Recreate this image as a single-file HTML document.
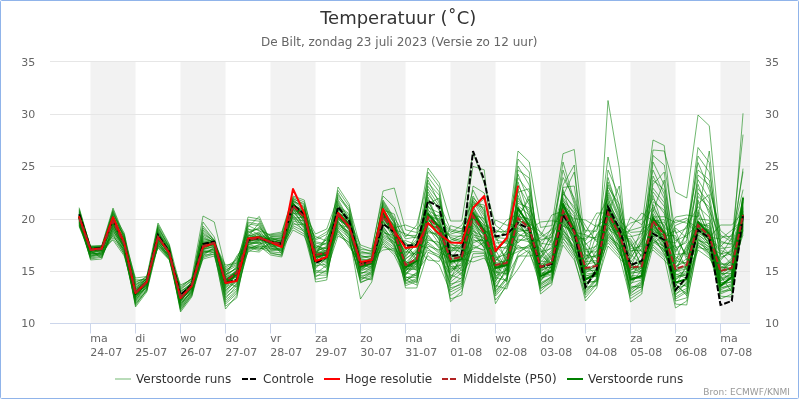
<!DOCTYPE html>
<html lang="nl"><head><meta charset="utf-8"><title>Temperatuur</title>
<style>html,body{margin:0;padding:0;background:#fff;}svg{display:block;font-family:"DejaVu Sans","Liberation Sans",Verdana,sans-serif;}</style></head><body>
<svg width="800" height="400" viewBox="0 0 800 400">
<rect x="0" y="0" width="800" height="400" fill="#ffffff"/>
<rect x="0.5" y="0.5" width="798" height="398" rx="1" ry="1" fill="#ffffff" stroke="#90b4ea" stroke-width="1"/>
<rect x="90.5" y="61.5" width="45.0" height="262.0" fill="#f2f2f2"/>
<rect x="180.5" y="61.5" width="45.0" height="262.0" fill="#f2f2f2"/>
<rect x="270.5" y="61.5" width="45.0" height="262.0" fill="#f2f2f2"/>
<rect x="360.5" y="61.5" width="45.0" height="262.0" fill="#f2f2f2"/>
<rect x="450.5" y="61.5" width="45.0" height="262.0" fill="#f2f2f2"/>
<rect x="540.5" y="61.5" width="45.0" height="262.0" fill="#f2f2f2"/>
<rect x="630.5" y="61.5" width="45.0" height="262.0" fill="#f2f2f2"/>
<rect x="720.5" y="61.5" width="29.5" height="262.0" fill="#f2f2f2"/>
<path d="M50 271.5H750" stroke="#e6e6e6" stroke-width="1" fill="none"/>
<path d="M50 219.5H750" stroke="#e6e6e6" stroke-width="1" fill="none"/>
<path d="M50 166.5H750" stroke="#e6e6e6" stroke-width="1" fill="none"/>
<path d="M50 114.5H750" stroke="#e6e6e6" stroke-width="1" fill="none"/>
<path d="M50 61.5H750" stroke="#e6e6e6" stroke-width="1" fill="none"/>
<path d="M50 323.5H750" stroke="#ccd6eb" stroke-width="1" fill="none"/>
<path d="M90.5 323.5V333.5" stroke="#ccd6eb" stroke-width="1" fill="none"/>
<path d="M135.5 323.5V333.5" stroke="#ccd6eb" stroke-width="1" fill="none"/>
<path d="M180.5 323.5V333.5" stroke="#ccd6eb" stroke-width="1" fill="none"/>
<path d="M225.5 323.5V333.5" stroke="#ccd6eb" stroke-width="1" fill="none"/>
<path d="M270.5 323.5V333.5" stroke="#ccd6eb" stroke-width="1" fill="none"/>
<path d="M315.5 323.5V333.5" stroke="#ccd6eb" stroke-width="1" fill="none"/>
<path d="M360.5 323.5V333.5" stroke="#ccd6eb" stroke-width="1" fill="none"/>
<path d="M405.5 323.5V333.5" stroke="#ccd6eb" stroke-width="1" fill="none"/>
<path d="M450.5 323.5V333.5" stroke="#ccd6eb" stroke-width="1" fill="none"/>
<path d="M495.5 323.5V333.5" stroke="#ccd6eb" stroke-width="1" fill="none"/>
<path d="M540.5 323.5V333.5" stroke="#ccd6eb" stroke-width="1" fill="none"/>
<path d="M585.5 323.5V333.5" stroke="#ccd6eb" stroke-width="1" fill="none"/>
<path d="M630.5 323.5V333.5" stroke="#ccd6eb" stroke-width="1" fill="none"/>
<path d="M675.5 323.5V333.5" stroke="#ccd6eb" stroke-width="1" fill="none"/>
<path d="M720.5 323.5V333.5" stroke="#ccd6eb" stroke-width="1" fill="none"/>
<g fill="none" stroke-linejoin="round" stroke-linecap="round">
<g stroke="#008000" stroke-width="1" stroke-opacity="0.56">
<path d="M79.25 217.6 L90.50 255.1 L101.75 255.2 L113.00 220.7 L124.25 240.9 L135.50 299.4 L146.75 285.6 L158.00 235.5 L169.25 253.6 L180.50 298.0 L191.75 284.6 L203.00 249.0 L214.25 246.5 L225.50 281.0 L236.75 274.4 L248.00 240.7 L259.25 238.3 L270.50 243.3 L281.75 244.0 L293.00 205.8 L304.25 212.2 L315.50 250.8 L326.75 248.2 L338.00 204.3 L349.25 225.8 L360.50 259.3 L371.75 260.2 L383.00 211.5 L394.25 233.5 L405.50 251.5 L416.75 254.4 L428.00 172.0 L439.25 187.0 L450.50 264.2 L461.75 259.5 L473.00 186.0 L484.25 193.0 L495.50 249.8 L506.75 270.6 L518.00 166.0 L529.25 185.0 L540.50 259.6 L551.75 239.5 L563.00 162.0 L574.25 201.1 L585.50 236.7 L596.75 237.9 L608.00 215.2 L619.25 234.0 L630.50 236.7 L641.75 233.7 L653.00 222.2 L664.25 222.2 L675.50 240.7 L686.75 235.5 L698.00 224.0 L709.25 236.5 L720.50 252.1 L731.75 264.7 L743.00 197.0"/>
<path d="M79.25 214.2 L90.50 251.6 L101.75 249.0 L113.00 221.1 L124.25 241.4 L135.50 292.5 L146.75 282.2 L158.00 233.0 L169.25 250.8 L180.50 296.6 L191.75 285.5 L203.00 234.8 L214.25 240.8 L225.50 283.8 L236.75 278.7 L248.00 236.2 L259.25 231.9 L270.50 242.0 L281.75 244.0 L293.00 200.4 L304.25 207.5 L315.50 253.7 L326.75 236.1 L338.00 201.1 L349.25 222.3 L360.50 267.1 L371.75 263.1 L383.00 212.9 L394.25 237.9 L405.50 267.8 L416.75 256.4 L428.00 201.7 L439.25 221.8 L450.50 251.5 L461.75 239.4 L473.00 205.6 L484.25 232.5 L495.50 246.5 L506.75 248.5 L518.00 217.2 L529.25 198.9 L540.50 271.1 L551.75 258.0 L563.00 207.2 L574.25 220.7 L585.50 270.2 L596.75 263.3 L608.00 192.5 L619.25 217.9 L630.50 257.5 L641.75 242.3 L653.00 223.7 L664.25 237.3 L675.50 217.0 L686.75 215.0 L698.00 216.9 L709.25 151.0 L720.50 255.5 L731.75 238.1 L743.00 190.0"/>
<path d="M79.25 217.8 L90.50 250.0 L101.75 248.9 L113.00 214.5 L124.25 243.3 L135.50 294.8 L146.75 283.3 L158.00 239.5 L169.25 253.7 L180.50 291.5 L191.75 283.2 L203.00 244.4 L214.25 242.2 L225.50 281.0 L236.75 270.2 L248.00 245.5 L259.25 241.8 L270.50 249.3 L281.75 248.0 L293.00 225.7 L304.25 231.3 L315.50 275.3 L326.75 275.1 L338.00 226.9 L349.25 234.5 L360.50 282.0 L371.75 278.4 L383.00 239.0 L394.25 247.5 L405.50 283.9 L416.75 280.0 L428.00 240.2 L439.25 242.4 L450.50 273.2 L461.75 258.6 L473.00 262.0 L484.25 258.0 L495.50 274.7 L506.75 257.2 L518.00 251.5 L529.25 246.9 L540.50 237.6 L551.75 229.7 L563.00 208.1 L574.25 222.5 L585.50 269.4 L596.75 270.8 L608.00 211.3 L619.25 236.9 L630.50 238.7 L641.75 257.5 L653.00 235.4 L664.25 254.3 L675.50 271.6 L686.75 268.7 L698.00 235.3 L709.25 241.6 L720.50 271.1 L731.75 263.5 L743.00 230.4"/>
<path d="M79.25 227.0 L90.50 253.1 L101.75 249.2 L113.00 222.9 L124.25 247.2 L135.50 292.8 L146.75 277.6 L158.00 237.1 L169.25 253.0 L180.50 312.0 L191.75 297.0 L203.00 255.8 L214.25 247.0 L225.50 285.5 L236.75 273.6 L248.00 247.5 L259.25 250.6 L270.50 236.7 L281.75 235.6 L293.00 218.2 L304.25 217.1 L315.50 252.7 L326.75 253.0 L338.00 223.5 L349.25 233.5 L360.50 263.3 L371.75 261.4 L383.00 224.7 L394.25 229.6 L405.50 233.8 L416.75 238.2 L428.00 216.4 L439.25 218.7 L450.50 232.6 L461.75 225.3 L473.00 201.2 L484.25 220.3 L495.50 235.6 L506.75 263.1 L518.00 209.8 L529.25 223.6 L540.50 231.9 L551.75 241.4 L563.00 170.0 L574.25 204.0 L585.50 256.9 L596.75 248.1 L608.00 157.0 L619.25 206.6 L630.50 250.5 L641.75 250.3 L653.00 195.4 L664.25 230.5 L675.50 277.6 L686.75 272.4 L698.00 239.6 L709.25 246.9 L720.50 253.8 L731.75 251.9 L743.00 216.9"/>
<path d="M79.25 212.4 L90.50 247.0 L101.75 246.5 L113.00 213.7 L124.25 233.0 L135.50 291.4 L146.75 280.5 L158.00 230.0 L169.25 250.0 L180.50 297.2 L191.75 284.9 L203.00 242.5 L214.25 242.1 L225.50 269.8 L236.75 264.5 L248.00 233.5 L259.25 227.3 L270.50 241.7 L281.75 243.5 L293.00 209.8 L304.25 217.0 L315.50 265.9 L326.75 263.9 L338.00 229.4 L349.25 247.0 L360.50 262.3 L371.75 265.2 L383.00 235.9 L394.25 242.4 L405.50 240.6 L416.75 245.0 L428.00 248.1 L439.25 258.5 L450.50 225.6 L461.75 228.9 L473.00 213.0 L484.25 233.0 L495.50 277.5 L506.75 280.6 L518.00 237.1 L529.25 229.2 L540.50 287.8 L551.75 282.8 L563.00 245.0 L574.25 260.0 L585.50 295.1 L596.75 283.0 L608.00 246.0 L619.25 258.0 L630.50 269.8 L641.75 266.9 L653.00 216.9 L664.25 216.7 L675.50 222.7 L686.75 218.0 L698.00 236.3 L709.25 247.9 L720.50 270.7 L731.75 269.2 L743.00 225.8"/>
<path d="M79.25 220.1 L90.50 252.3 L101.75 251.3 L113.00 221.0 L124.25 243.8 L135.50 300.9 L146.75 284.7 L158.00 243.2 L169.25 255.6 L180.50 306.7 L191.75 292.9 L203.00 259.0 L214.25 256.0 L225.50 295.2 L236.75 283.1 L248.00 240.5 L259.25 238.0 L270.50 243.0 L281.75 244.1 L293.00 209.1 L304.25 217.0 L315.50 268.7 L326.75 257.3 L338.00 225.7 L349.25 231.6 L360.50 273.4 L371.75 270.1 L383.00 217.4 L394.25 234.8 L405.50 271.7 L416.75 258.1 L428.00 244.1 L439.25 253.3 L450.50 270.0 L461.75 262.8 L473.00 216.2 L484.25 234.7 L495.50 253.1 L506.75 236.7 L518.00 219.0 L529.25 228.1 L540.50 281.6 L551.75 265.7 L563.00 225.0 L574.25 235.4 L585.50 277.7 L596.75 276.0 L608.00 229.4 L619.25 236.2 L630.50 271.7 L641.75 273.4 L653.00 230.6 L664.25 243.3 L675.50 295.4 L686.75 281.5 L698.00 250.0 L709.25 258.0 L720.50 277.2 L731.75 268.6 L743.00 235.0"/>
<path d="M79.25 220.4 L90.50 247.3 L101.75 248.6 L113.00 228.7 L124.25 246.7 L135.50 298.7 L146.75 282.8 L158.00 246.0 L169.25 258.0 L180.50 299.4 L191.75 286.9 L203.00 248.5 L214.25 247.6 L225.50 280.8 L236.75 273.1 L248.00 237.5 L259.25 232.8 L270.50 250.1 L281.75 248.6 L293.00 206.0 L304.25 216.5 L315.50 255.0 L326.75 252.9 L338.00 232.2 L349.25 243.2 L360.50 266.2 L371.75 263.5 L383.00 246.6 L394.25 250.9 L405.50 270.9 L416.75 262.6 L428.00 212.0 L439.25 229.8 L450.50 268.4 L461.75 268.1 L473.00 219.1 L484.25 232.8 L495.50 276.1 L506.75 269.7 L518.00 241.0 L529.25 238.4 L540.50 291.3 L551.75 281.0 L563.00 221.0 L574.25 253.6 L585.50 284.4 L596.75 274.2 L608.00 226.6 L619.25 242.0 L630.50 292.4 L641.75 286.3 L653.00 237.9 L664.25 253.1 L675.50 285.0 L686.75 293.9 L698.00 243.1 L709.25 248.8 L720.50 260.4 L731.75 248.6 L743.00 231.4"/>
<path d="M79.25 209.2 L90.50 247.9 L101.75 247.2 L113.00 217.9 L124.25 241.8 L135.50 293.3 L146.75 282.6 L158.00 237.0 L169.25 252.4 L180.50 298.0 L191.75 286.0 L203.00 245.9 L214.25 242.8 L225.50 274.0 L236.75 268.9 L248.00 217.0 L259.25 219.0 L270.50 241.6 L281.75 242.7 L293.00 205.4 L304.25 217.2 L315.50 257.7 L326.75 253.0 L338.00 219.0 L349.25 228.1 L360.50 252.4 L371.75 252.9 L383.00 219.2 L394.25 232.0 L405.50 253.0 L416.75 241.0 L428.00 226.5 L439.25 239.6 L450.50 295.5 L461.75 288.2 L473.00 231.2 L484.25 236.8 L495.50 257.6 L506.75 254.5 L518.00 239.0 L529.25 241.9 L540.50 282.8 L551.75 276.9 L563.00 219.7 L574.25 241.3 L585.50 276.4 L596.75 271.6 L608.00 210.5 L619.25 227.6 L630.50 270.7 L641.75 262.2 L653.00 221.1 L664.25 248.5 L675.50 267.3 L686.75 258.7 L698.00 229.7 L709.25 229.7 L720.50 282.5 L731.75 282.4 L743.00 209.3"/>
<path d="M79.25 218.1 L90.50 250.0 L101.75 249.0 L113.00 219.6 L124.25 244.5 L135.50 288.7 L146.75 282.0 L158.00 237.6 L169.25 254.9 L180.50 298.5 L191.75 286.1 L203.00 246.7 L214.25 245.1 L225.50 280.9 L236.75 269.6 L248.00 248.2 L259.25 245.1 L270.50 237.8 L281.75 238.0 L293.00 213.5 L304.25 214.2 L315.50 244.6 L326.75 251.5 L338.00 217.1 L349.25 226.8 L360.50 258.4 L371.75 256.3 L383.00 230.0 L394.25 246.5 L405.50 265.5 L416.75 250.0 L428.00 236.5 L439.25 246.8 L450.50 263.0 L461.75 274.2 L473.00 226.1 L484.25 239.4 L495.50 265.2 L506.75 266.2 L518.00 228.2 L529.25 234.2 L540.50 273.9 L551.75 272.1 L563.00 223.6 L574.25 233.2 L585.50 240.7 L596.75 224.7 L608.00 230.8 L619.25 250.2 L630.50 278.9 L641.75 259.2 L653.00 250.0 L664.25 260.0 L675.50 273.8 L686.75 278.3 L698.00 245.5 L709.25 253.0 L720.50 286.1 L731.75 281.1 L743.00 215.0"/>
<path d="M79.25 226.1 L90.50 248.4 L101.75 247.8 L113.00 222.1 L124.25 244.2 L135.50 283.6 L146.75 279.6 L158.00 236.4 L169.25 253.3 L180.50 288.9 L191.75 280.1 L203.00 236.2 L214.25 242.5 L225.50 276.5 L236.75 256.0 L248.00 241.5 L259.25 240.7 L270.50 235.4 L281.75 234.6 L293.00 199.0 L304.25 203.7 L315.50 254.1 L326.75 254.0 L338.00 202.7 L349.25 226.0 L360.50 260.2 L371.75 259.8 L383.00 206.1 L394.25 222.5 L405.50 248.5 L416.75 260.2 L428.00 225.0 L439.25 228.4 L450.50 243.3 L461.75 249.9 L473.00 199.5 L484.25 216.5 L495.50 254.6 L506.75 271.6 L518.00 225.1 L529.25 227.3 L540.50 269.5 L551.75 256.6 L563.00 234.0 L574.25 245.9 L585.50 263.0 L596.75 219.4 L608.00 199.0 L619.25 224.9 L630.50 246.7 L641.75 235.9 L653.00 184.4 L664.25 172.0 L675.50 265.9 L686.75 262.0 L698.00 218.8 L709.25 220.3 L720.50 279.2 L731.75 275.4 L743.00 214.4"/>
<path d="M79.25 218.0 L90.50 250.8 L101.75 249.0 L113.00 221.2 L124.25 244.0 L135.50 300.1 L146.75 286.5 L158.00 238.1 L169.25 254.7 L180.50 303.0 L191.75 291.0 L203.00 243.9 L214.25 242.8 L225.50 292.3 L236.75 279.7 L248.00 240.9 L259.25 239.1 L270.50 242.1 L281.75 252.1 L293.00 208.4 L304.25 227.7 L315.50 254.9 L326.75 237.9 L338.00 222.5 L349.25 232.5 L360.50 269.0 L371.75 269.1 L383.00 214.0 L394.25 237.1 L405.50 258.4 L416.75 252.3 L428.00 217.9 L439.25 236.9 L450.50 258.7 L461.75 256.8 L473.00 251.5 L484.25 252.3 L495.50 283.7 L506.75 272.6 L518.00 220.0 L529.25 224.8 L540.50 280.4 L551.75 270.3 L563.00 202.3 L574.25 227.0 L585.50 266.7 L596.75 233.6 L608.00 223.9 L619.25 253.7 L630.50 268.2 L641.75 240.2 L653.00 219.3 L664.25 224.7 L675.50 299.1 L686.75 292.0 L698.00 220.5 L709.25 235.6 L720.50 291.2 L731.75 290.4 L743.00 206.2"/>
<path d="M79.25 210.2 L90.50 249.9 L101.75 249.0 L113.00 218.4 L124.25 244.0 L135.50 298.0 L146.75 282.1 L158.00 234.7 L169.25 251.8 L180.50 297.6 L191.75 282.3 L203.00 239.8 L214.25 241.3 L225.50 281.7 L236.75 275.5 L248.00 240.0 L259.25 235.7 L270.50 240.6 L281.75 243.6 L293.00 201.0 L304.25 210.5 L315.50 260.2 L326.75 251.0 L338.00 214.7 L349.25 224.2 L360.50 264.1 L371.75 257.7 L383.00 221.2 L394.25 236.3 L405.50 275.4 L416.75 259.1 L428.00 189.2 L439.25 206.0 L450.50 271.5 L461.75 264.1 L473.00 214.4 L484.25 228.9 L495.50 244.7 L506.75 258.5 L518.00 200.9 L529.25 210.2 L540.50 268.1 L551.75 263.5 L563.00 195.7 L574.25 172.0 L585.50 251.8 L596.75 251.9 L608.00 228.0 L619.25 233.5 L630.50 266.2 L641.75 260.7 L653.00 220.1 L664.25 235.0 L675.50 270.6 L686.75 266.7 L698.00 223.1 L709.25 231.4 L720.50 263.4 L731.75 265.8 L743.00 219.4"/>
<path d="M79.25 221.6 L90.50 259.0 L101.75 257.2 L113.00 231.7 L124.25 246.3 L135.50 304.5 L146.75 289.5 L158.00 240.4 L169.25 253.0 L180.50 304.4 L191.75 289.4 L203.00 253.3 L214.25 250.3 L225.50 300.2 L236.75 290.2 L248.00 250.8 L259.25 252.0 L270.50 242.5 L281.75 244.0 L293.00 224.1 L304.25 224.7 L315.50 247.0 L326.75 252.5 L338.00 215.1 L349.25 224.6 L360.50 265.0 L371.75 264.6 L383.00 237.4 L394.25 244.4 L405.50 280.5 L416.75 274.6 L428.00 234.7 L439.25 248.4 L450.50 299.0 L461.75 295.0 L473.00 215.6 L484.25 233.1 L495.50 296.0 L506.75 283.1 L518.00 189.0 L529.25 227.7 L540.50 294.0 L551.75 285.0 L563.00 206.1 L574.25 228.2 L585.50 293.4 L596.75 279.9 L608.00 222.7 L619.25 238.5 L630.50 280.3 L641.75 275.5 L653.00 220.7 L664.25 245.3 L675.50 297.2 L686.75 290.2 L698.00 240.7 L709.25 243.3 L720.50 294.0 L731.75 289.0 L743.00 214.9"/>
<path d="M79.25 218.9 L90.50 248.2 L101.75 246.7 L113.00 220.9 L124.25 242.8 L135.50 293.0 L146.75 283.9 L158.00 236.6 L169.25 252.7 L180.50 290.7 L191.75 285.7 L203.00 246.3 L214.25 243.1 L225.50 287.4 L236.75 280.8 L248.00 240.3 L259.25 237.3 L270.50 241.8 L281.75 244.2 L293.00 206.0 L304.25 216.7 L315.50 253.3 L326.75 249.8 L338.00 217.7 L349.25 226.1 L360.50 257.4 L371.75 255.5 L383.00 218.3 L394.25 234.1 L405.50 245.4 L416.75 247.5 L428.00 260.0 L439.25 261.4 L450.50 240.4 L461.75 235.0 L473.00 215.9 L484.25 233.5 L495.50 262.7 L506.75 260.8 L518.00 218.0 L529.25 195.7 L540.50 285.3 L551.75 275.8 L563.00 230.9 L574.25 242.4 L585.50 288.8 L596.75 267.5 L608.00 232.3 L619.25 245.9 L630.50 289.2 L641.75 281.2 L653.00 201.7 L664.25 210.1 L675.50 279.0 L686.75 273.8 L698.00 200.1 L709.25 232.9 L720.50 264.8 L731.75 262.2 L743.00 221.6"/>
<path d="M79.25 217.2 L90.50 253.6 L101.75 253.5 L113.00 235.3 L124.25 252.2 L135.50 293.2 L146.75 282.0 L158.00 233.6 L169.25 246.7 L180.50 297.4 L191.75 286.0 L203.00 229.9 L214.25 240.3 L225.50 282.1 L236.75 274.0 L248.00 243.7 L259.25 243.0 L270.50 238.3 L281.75 241.6 L293.00 205.9 L304.25 209.6 L315.50 240.2 L326.75 234.3 L338.00 212.7 L349.25 218.7 L360.50 249.4 L371.75 250.6 L383.00 215.8 L394.25 231.6 L405.50 274.5 L416.75 265.4 L428.00 222.3 L439.25 231.4 L450.50 285.9 L461.75 277.5 L473.00 234.9 L484.25 237.7 L495.50 282.1 L506.75 255.9 L518.00 226.6 L529.25 235.2 L540.50 277.0 L551.75 260.6 L563.00 214.2 L574.25 232.6 L585.50 260.1 L596.75 244.2 L608.00 213.7 L619.25 242.9 L630.50 290.8 L641.75 282.5 L653.00 243.4 L664.25 235.1 L675.50 290.0 L686.75 279.8 L698.00 225.1 L709.25 246.0 L720.50 289.9 L731.75 284.9 L743.00 228.5"/>
<path d="M79.25 218.0 L90.50 249.5 L101.75 248.7 L113.00 216.0 L124.25 236.3 L135.50 293.0 L146.75 281.5 L158.00 235.8 L169.25 253.4 L180.50 299.1 L191.75 289.0 L203.00 247.7 L214.25 243.3 L225.50 280.7 L236.75 271.6 L248.00 238.6 L259.25 239.4 L270.50 240.9 L281.75 244.7 L293.00 206.0 L304.25 217.7 L315.50 243.2 L326.75 245.1 L338.00 213.7 L349.25 225.3 L360.50 265.0 L371.75 262.1 L383.00 220.2 L394.25 239.6 L405.50 242.2 L416.75 259.6 L428.00 216.8 L439.25 215.0 L450.50 231.0 L461.75 233.5 L473.00 196.0 L484.25 214.5 L495.50 259.0 L506.75 264.1 L518.00 170.0 L529.25 178.0 L540.50 263.6 L551.75 265.1 L563.00 211.0 L574.25 218.7 L585.50 220.0 L596.75 226.9 L608.00 216.1 L619.25 243.9 L630.50 217.0 L641.75 224.7 L653.00 207.1 L664.25 226.9 L675.50 238.2 L686.75 255.0 L698.00 212.2 L709.25 234.1 L720.50 250.3 L731.75 255.1 L743.00 214.0"/>
<path d="M79.25 222.6 L90.50 250.2 L101.75 250.6 L113.00 223.5 L124.25 250.1 L135.50 287.3 L146.75 280.9 L158.00 237.0 L169.25 254.4 L180.50 296.2 L191.75 285.8 L203.00 233.3 L214.25 241.1 L225.50 281.0 L236.75 287.1 L248.00 240.0 L259.25 239.8 L270.50 237.3 L281.75 242.0 L293.00 203.2 L304.25 212.9 L315.50 249.0 L326.75 242.5 L338.00 207.0 L349.25 215.1 L360.50 264.6 L371.75 266.6 L383.00 210.8 L394.25 227.0 L405.50 243.8 L416.75 246.3 L428.00 199.5 L439.25 226.5 L450.50 237.4 L461.75 240.8 L473.00 211.4 L484.25 226.5 L495.50 272.0 L506.75 273.7 L518.00 215.5 L529.25 228.0 L540.50 256.6 L551.75 246.8 L563.00 212.4 L574.25 239.2 L585.50 271.1 L596.75 265.6 L608.00 238.4 L619.25 249.1 L630.50 228.1 L641.75 213.0 L653.00 221.0 L664.25 219.6 L675.50 260.6 L686.75 263.4 L698.00 237.4 L709.25 250.9 L720.50 275.3 L731.75 270.7 L743.00 218.1"/>
<path d="M79.25 215.2 L90.50 248.8 L101.75 248.3 L113.00 220.4 L124.25 234.3 L135.50 281.3 L146.75 278.9 L158.00 243.9 L169.25 258.5 L180.50 286.6 L191.75 278.7 L203.00 247.0 L214.25 245.5 L225.50 278.8 L236.75 273.0 L248.00 239.3 L259.25 238.5 L270.50 239.6 L281.75 243.8 L293.00 219.6 L304.25 220.7 L315.50 267.3 L326.75 254.5 L338.00 220.6 L349.25 236.7 L360.50 264.9 L371.75 258.3 L383.00 250.0 L394.25 248.6 L405.50 263.0 L416.75 251.1 L428.00 242.1 L439.25 251.7 L450.50 259.2 L461.75 244.9 L473.00 227.8 L484.25 245.4 L495.50 243.0 L506.75 242.0 L518.00 151.0 L529.25 162.0 L540.50 227.4 L551.75 225.6 L563.00 153.7 L574.25 149.5 L585.50 246.4 L596.75 266.9 L608.00 204.3 L619.25 234.5 L630.50 230.3 L641.75 227.0 L653.00 140.0 L664.25 145.5 L675.50 252.3 L686.75 233.1 L698.00 147.5 L709.25 162.5 L720.50 266.2 L731.75 269.9 L743.00 203.7"/>
<path d="M79.25 215.6 L90.50 248.6 L101.75 247.0 L113.00 219.2 L124.25 242.2 L135.50 292.9 L146.75 281.9 L158.00 242.6 L169.25 257.5 L180.50 305.9 L191.75 290.4 L203.00 245.5 L214.25 242.9 L225.50 284.6 L236.75 276.2 L248.00 219.8 L259.25 221.2 L270.50 241.9 L281.75 240.6 L293.00 203.6 L304.25 218.9 L315.50 254.6 L326.75 253.1 L338.00 199.3 L349.25 219.8 L360.50 245.0 L371.75 249.0 L383.00 196.0 L394.25 207.0 L405.50 237.2 L416.75 225.0 L428.00 180.0 L439.25 203.5 L450.50 229.4 L461.75 232.0 L473.00 190.0 L484.25 212.3 L495.50 270.8 L506.75 281.8 L518.00 185.5 L529.25 204.9 L540.50 264.7 L551.75 273.0 L563.00 189.6 L574.25 225.6 L585.50 275.3 L596.75 276.9 L608.00 170.0 L619.25 196.0 L630.50 252.3 L641.75 244.3 L653.00 191.9 L664.25 206.5 L675.50 254.5 L686.75 253.1 L698.00 175.0 L709.25 185.1 L720.50 235.1 L731.75 241.7 L743.00 172.0"/>
<path d="M79.25 211.7 L90.50 246.0 L101.75 245.6 L113.00 210.9 L124.25 238.5 L135.50 278.0 L146.75 276.5 L158.00 223.0 L169.25 244.0 L180.50 287.9 L191.75 278.0 L203.00 216.0 L214.25 222.0 L225.50 268.5 L236.75 261.1 L248.00 225.5 L259.25 230.9 L270.50 234.7 L281.75 233.4 L293.00 197.2 L304.25 202.0 L315.50 241.8 L326.75 243.8 L338.00 190.4 L349.25 206.6 L360.50 247.4 L371.75 251.9 L383.00 191.0 L394.25 188.0 L405.50 229.8 L416.75 232.5 L428.00 168.0 L439.25 183.0 L450.50 221.0 L461.75 221.0 L473.00 152.5 L484.25 183.5 L495.50 225.4 L506.75 233.1 L518.00 174.2 L529.25 202.0 L540.50 245.0 L551.75 259.3 L563.00 211.7 L574.25 231.4 L585.50 255.3 L596.75 257.2 L608.00 194.8 L619.25 219.8 L630.50 232.4 L641.75 231.5 L653.00 170.0 L664.25 194.3 L675.50 264.2 L686.75 246.9 L698.00 227.3 L709.25 237.5 L720.50 225.0 L731.75 225.0 L743.00 212.5"/>
<path d="M79.25 216.0 L90.50 250.0 L101.75 249.6 L113.00 217.3 L124.25 243.1 L135.50 291.8 L146.75 282.0 L158.00 235.1 L169.25 252.6 L180.50 285.0 L191.75 279.4 L203.00 226.0 L214.25 240.0 L225.50 275.7 L236.75 267.4 L248.00 232.4 L259.25 228.5 L270.50 236.1 L281.75 236.4 L293.00 204.9 L304.25 217.0 L315.50 248.0 L326.75 239.5 L338.00 215.3 L349.25 228.7 L360.50 263.8 L371.75 268.2 L383.00 215.2 L394.25 228.4 L405.50 247.0 L416.75 255.5 L428.00 203.8 L439.25 198.0 L450.50 256.1 L461.75 257.8 L473.00 204.2 L484.25 207.5 L495.50 294.2 L506.75 279.4 L518.00 217.7 L529.25 243.1 L540.50 248.5 L551.75 264.5 L563.00 191.8 L574.25 209.5 L585.50 230.6 L596.75 231.4 L608.00 187.5 L619.25 204.0 L630.50 254.1 L641.75 264.9 L653.00 162.0 L664.25 185.0 L675.50 247.8 L686.75 242.5 L698.00 156.0 L709.25 172.0 L720.50 242.9 L731.75 243.5 L743.00 211.8"/>
<path d="M79.25 217.7 L90.50 249.6 L101.75 249.0 L113.00 220.6 L124.25 243.5 L135.50 279.8 L146.75 279.9 L158.00 240.9 L169.25 256.3 L180.50 294.3 L191.75 284.3 L203.00 246.0 L214.25 242.9 L225.50 265.0 L236.75 263.5 L248.00 239.0 L259.25 233.6 L270.50 241.1 L281.75 241.1 L293.00 206.6 L304.25 221.4 L315.50 255.1 L326.75 255.1 L338.00 211.2 L349.25 223.0 L360.50 253.8 L371.75 253.8 L383.00 223.5 L394.25 232.5 L405.50 267.1 L416.75 257.3 L428.00 228.0 L439.25 243.8 L450.50 260.8 L461.75 255.2 L473.00 249.3 L484.25 242.3 L495.50 269.6 L506.75 259.7 L518.00 247.2 L529.25 248.2 L540.50 255.1 L551.75 263.9 L563.00 238.9 L574.25 249.6 L585.50 278.9 L596.75 273.3 L608.00 240.1 L619.25 252.5 L630.50 272.8 L641.75 268.1 L653.00 244.8 L664.25 255.5 L675.50 269.8 L686.75 265.8 L698.00 232.3 L709.25 238.7 L720.50 261.9 L731.75 271.6 L743.00 207.3"/>
<path d="M79.25 224.8 L90.50 250.0 L101.75 249.1 L113.00 240.0 L124.25 256.0 L135.50 296.2 L146.75 284.3 L158.00 241.4 L169.25 257.1 L180.50 301.2 L191.75 287.1 L203.00 257.7 L214.25 253.7 L225.50 281.1 L236.75 277.0 L248.00 249.0 L259.25 244.4 L270.50 250.9 L281.75 249.9 L293.00 230.0 L304.25 236.0 L315.50 262.2 L326.75 259.2 L338.00 233.9 L349.25 244.9 L360.50 265.1 L371.75 261.9 L383.00 242.2 L394.25 252.7 L405.50 270.1 L416.75 260.9 L428.00 218.8 L439.25 234.5 L450.50 267.0 L461.75 265.4 L473.00 229.5 L484.25 248.7 L495.50 285.4 L506.75 289.0 L518.00 257.0 L529.25 249.6 L540.50 272.0 L551.75 263.1 L563.00 235.6 L574.25 247.1 L585.50 280.2 L596.75 270.1 L608.00 242.7 L619.25 255.6 L630.50 298.6 L641.75 291.2 L653.00 234.1 L664.25 247.4 L675.50 291.8 L686.75 283.1 L698.00 228.8 L709.25 223.0 L720.50 271.6 L731.75 267.7 L743.00 229.5"/>
<path d="M79.25 218.0 L90.50 251.3 L101.75 258.0 L113.00 229.6 L124.25 253.0 L135.50 301.7 L146.75 287.1 L158.00 238.8 L169.25 252.8 L180.50 308.5 L191.75 294.3 L203.00 248.1 L214.25 243.7 L225.50 296.8 L236.75 288.6 L248.00 246.1 L259.25 249.5 L270.50 242.7 L281.75 244.5 L293.00 205.6 L304.25 215.9 L315.50 255.3 L326.75 255.7 L338.00 193.2 L349.25 212.1 L360.50 279.2 L371.75 275.7 L383.00 240.6 L394.25 249.7 L405.50 273.5 L416.75 263.4 L428.00 250.2 L439.25 255.0 L450.50 284.0 L461.75 280.9 L473.00 245.0 L484.25 251.1 L495.50 273.3 L506.75 250.1 L518.00 233.4 L529.25 240.7 L540.50 262.3 L551.75 250.3 L563.00 208.9 L574.25 232.1 L585.50 234.7 L596.75 240.1 L608.00 218.1 L619.25 233.8 L630.50 223.1 L641.75 219.4 L653.00 198.6 L664.25 213.5 L675.50 269.2 L686.75 276.7 L698.00 221.9 L709.25 227.7 L720.50 267.5 L731.75 268.1 L743.00 201.0"/>
<path d="M79.25 224.2 L90.50 255.7 L101.75 251.7 L113.00 221.0 L124.25 243.9 L135.50 293.8 L146.75 281.7 L158.00 236.7 L169.25 252.0 L180.50 293.7 L191.75 285.9 L203.00 222.0 L214.25 237.0 L225.50 277.8 L236.75 266.5 L248.00 229.9 L259.25 229.7 L270.50 245.5 L281.75 250.6 L293.00 207.9 L304.25 216.9 L315.50 256.5 L326.75 258.2 L338.00 215.8 L349.25 230.8 L360.50 275.5 L371.75 274.5 L383.00 215.9 L394.25 225.4 L405.50 276.4 L416.75 282.8 L428.00 231.2 L439.25 235.7 L450.50 276.6 L461.75 266.7 L473.00 242.9 L484.25 238.5 L495.50 260.3 L506.75 251.6 L518.00 221.1 L529.25 233.2 L540.50 267.1 L551.75 267.8 L563.00 227.9 L574.25 248.4 L585.50 273.1 L596.75 264.6 L608.00 235.3 L619.25 246.9 L630.50 260.7 L641.75 271.5 L653.00 226.4 L664.25 236.1 L675.50 230.6 L686.75 260.4 L698.00 231.4 L709.25 236.9 L720.50 239.1 L731.75 230.2 L743.00 218.7"/>
<path d="M79.25 211.0 L90.50 246.4 L101.75 245.9 L113.00 208.0 L124.25 235.4 L135.50 295.7 L146.75 283.0 L158.00 234.2 L169.25 253.0 L180.50 297.9 L191.75 283.6 L203.00 246.1 L214.25 244.0 L225.50 273.0 L236.75 258.0 L248.00 240.1 L259.25 241.2 L270.50 240.0 L281.75 243.9 L293.00 206.3 L304.25 216.2 L315.50 254.8 L326.75 253.6 L338.00 228.1 L349.25 237.9 L360.50 283.0 L371.75 277.0 L383.00 227.3 L394.25 240.5 L405.50 259.6 L416.75 248.8 L428.00 215.1 L439.25 227.3 L450.50 259.9 L461.75 261.7 L473.00 207.0 L484.25 223.7 L495.50 264.7 L506.75 264.7 L518.00 198.2 L529.25 212.7 L540.50 246.7 L551.75 227.6 L563.00 177.5 L574.25 198.0 L585.50 232.6 L596.75 213.0 L608.00 213.0 L619.25 226.3 L630.50 234.6 L641.75 252.2 L653.00 209.5 L664.25 233.1 L675.50 280.4 L686.75 267.7 L698.00 244.3 L709.25 255.8 L720.50 283.7 L731.75 278.8 L743.00 226.7"/>
<path d="M79.25 219.4 L90.50 254.5 L101.75 252.1 L113.00 224.7 L124.25 244.7 L135.50 290.0 L146.75 281.3 L158.00 231.6 L169.25 249.6 L180.50 298.8 L191.75 287.8 L203.00 231.6 L214.25 241.9 L225.50 278.3 L236.75 271.9 L248.00 236.9 L259.25 222.8 L270.50 243.7 L281.75 245.7 L293.00 206.1 L304.25 215.2 L315.50 257.1 L326.75 266.7 L338.00 214.5 L349.25 225.6 L360.50 270.6 L371.75 262.0 L383.00 212.2 L394.25 231.3 L405.50 263.9 L416.75 258.8 L428.00 186.3 L439.25 200.8 L450.50 250.2 L461.75 251.1 L473.00 216.0 L484.25 244.3 L495.50 266.6 L506.75 265.4 L518.00 213.1 L529.25 228.6 L540.50 261.0 L551.75 262.7 L563.00 187.4 L574.25 186.0 L585.50 261.6 L596.75 260.5 L608.00 196.9 L619.25 231.8 L630.50 294.1 L641.75 283.7 L653.00 225.4 L664.25 236.7 L675.50 288.3 L686.75 284.8 L698.00 224.6 L709.25 225.5 L720.50 272.9 L731.75 259.5 L743.00 215.4"/>
<path d="M79.25 213.6 L90.50 249.0 L101.75 248.1 L113.00 222.5 L124.25 245.2 L135.50 293.1 L146.75 282.0 L158.00 236.9 L169.25 251.5 L180.50 297.9 L191.75 285.6 L203.00 240.8 L214.25 242.7 L225.50 281.4 L236.75 272.2 L248.00 239.6 L259.25 236.2 L270.50 242.0 L281.75 240.0 L293.00 201.6 L304.25 206.3 L315.50 256.0 L326.75 260.2 L338.00 212.0 L349.25 225.0 L360.50 269.7 L371.75 262.0 L383.00 201.3 L394.25 219.2 L405.50 282.7 L416.75 278.6 L428.00 177.0 L439.25 192.0 L450.50 265.6 L461.75 275.8 L473.00 208.2 L484.25 199.0 L495.50 239.4 L506.75 243.6 L518.00 178.1 L529.25 192.3 L540.50 268.8 L551.75 253.5 L563.00 217.3 L574.25 238.2 L585.50 238.7 L596.75 229.2 L608.00 205.8 L619.25 223.3 L630.50 244.8 L641.75 255.8 L653.00 222.9 L664.25 241.4 L675.50 220.0 L686.75 223.2 L698.00 234.3 L709.25 245.1 L720.50 258.8 L731.75 250.3 L743.00 213.6"/>
<path d="M79.25 218.0 L90.50 249.4 L101.75 248.8 L113.00 220.2 L124.25 240.4 L135.50 285.5 L146.75 276.0 L158.00 248.0 L169.25 260.0 L180.50 294.9 L191.75 284.0 L203.00 251.9 L214.25 251.1 L225.50 277.1 L236.75 271.2 L248.00 242.3 L259.25 243.7 L270.50 242.0 L281.75 242.4 L293.00 205.2 L304.25 220.0 L315.50 236.5 L326.75 241.1 L338.00 214.1 L349.25 217.6 L360.50 264.8 L371.75 262.5 L383.00 202.6 L394.25 220.4 L405.50 262.0 L416.75 264.4 L428.00 192.0 L439.25 210.8 L450.50 280.2 L461.75 252.2 L473.00 224.6 L484.25 235.3 L495.50 261.6 L506.75 245.3 L518.00 231.6 L529.25 229.9 L540.50 222.0 L551.75 220.8 L563.00 222.3 L574.25 236.3 L585.50 264.3 L596.75 262.0 L608.00 202.7 L619.25 221.6 L630.50 269.0 L641.75 254.0 L653.00 224.6 L664.25 251.9 L675.50 228.0 L686.75 237.9 L698.00 179.7 L709.25 198.9 L720.50 281.4 L731.75 272.4 L743.00 224.1"/>
<path d="M79.25 225.4 L90.50 257.5 L101.75 254.1 L113.00 238.1 L124.25 253.8 L135.50 302.6 L146.75 288.9 L158.00 236.8 L169.25 251.2 L180.50 305.1 L191.75 291.6 L203.00 250.6 L214.25 249.6 L225.50 289.7 L236.75 281.9 L248.00 240.2 L259.25 237.0 L270.50 253.7 L281.75 254.7 L293.00 202.7 L304.25 215.6 L315.50 282.0 L326.75 280.0 L338.00 209.3 L349.25 220.7 L360.50 268.3 L371.75 264.0 L383.00 213.5 L394.25 229.0 L405.50 272.6 L416.75 275.9 L428.00 217.2 L439.25 240.9 L450.50 287.9 L461.75 284.5 L473.00 223.1 L484.25 234.1 L495.50 290.6 L506.75 278.2 L518.00 235.2 L529.25 236.2 L540.50 279.2 L551.75 268.6 L563.00 229.3 L574.25 250.9 L585.50 265.6 L596.75 275.1 L608.00 208.4 L619.25 232.5 L630.50 240.8 L641.75 267.5 L653.00 213.7 L664.25 231.9 L675.50 258.6 L686.75 251.1 L698.00 233.3 L709.25 239.4 L720.50 274.4 L731.75 266.9 L743.00 220.1"/>
<path d="M79.25 213.0 L90.50 249.7 L101.75 247.6 L113.00 212.8 L124.25 237.8 L135.50 295.2 L146.75 288.2 L158.00 237.9 L169.25 249.1 L180.50 300.2 L191.75 286.4 L203.00 243.2 L214.25 241.7 L225.50 274.9 L236.75 268.2 L248.00 235.4 L259.25 238.2 L270.50 239.2 L281.75 238.7 L293.00 210.6 L304.25 219.5 L315.50 238.6 L326.75 231.9 L338.00 215.0 L349.25 227.2 L360.50 261.0 L371.75 261.7 L383.00 209.9 L394.25 214.0 L405.50 250.0 L416.75 239.6 L428.00 209.2 L439.25 228.8 L450.50 258.0 L461.75 271.1 L473.00 247.1 L484.25 249.9 L495.50 233.8 L506.75 220.0 L518.00 214.4 L529.25 226.6 L540.50 235.8 L551.75 215.0 L563.00 211.2 L574.25 231.8 L585.50 242.6 L596.75 258.9 L608.00 225.2 L619.25 233.0 L630.50 286.1 L641.75 287.7 L653.00 228.4 L664.25 240.5 L675.50 243.1 L686.75 225.7 L698.00 206.7 L709.25 217.3 L720.50 248.5 L731.75 247.0 L743.00 213.1"/>
<path d="M79.25 221.2 L90.50 250.0 L101.75 250.3 L113.00 218.8 L124.25 239.2 L135.50 294.1 L146.75 283.6 L158.00 230.9 L169.25 253.2 L180.50 289.8 L191.75 280.7 L203.00 246.5 L214.25 244.3 L225.50 266.9 L236.75 259.7 L248.00 231.2 L259.25 238.0 L270.50 245.0 L281.75 246.1 L293.00 198.2 L304.25 205.1 L315.50 255.0 L326.75 251.9 L338.00 205.7 L349.25 213.7 L360.50 271.4 L371.75 265.9 L383.00 214.5 L394.25 231.9 L405.50 268.5 L416.75 269.8 L428.00 213.2 L439.25 232.4 L450.50 234.2 L461.75 230.5 L473.00 210.4 L484.25 222.1 L495.50 256.1 L506.75 274.8 L518.00 211.5 L529.25 220.6 L540.50 239.5 L551.75 237.6 L563.00 199.2 L574.25 224.1 L585.50 283.0 L596.75 280.9 L608.00 190.0 L619.25 215.9 L630.50 277.6 L641.75 277.7 L653.00 229.5 L664.25 238.1 L675.50 256.6 L686.75 265.2 L698.00 209.6 L709.25 236.0 L720.50 273.6 L731.75 273.4 L743.00 223.2"/>
<path d="M79.25 218.7 L90.50 249.3 L101.75 248.8 L113.00 220.9 L124.25 244.1 L135.50 293.0 L146.75 281.8 L158.00 232.4 L169.25 250.4 L180.50 296.9 L191.75 281.3 L203.00 241.7 L214.25 242.6 L225.50 280.3 L236.75 273.0 L248.00 244.8 L259.25 240.2 L270.50 241.3 L281.75 243.3 L293.00 216.9 L304.25 232.6 L315.50 252.2 L326.75 246.2 L338.00 215.0 L349.25 230.0 L360.50 265.0 L371.75 260.9 L383.00 231.4 L394.25 238.7 L405.50 266.0 L416.75 267.5 L428.00 217.0 L439.25 227.9 L450.50 255.0 L461.75 257.2 L473.00 202.8 L484.25 205.0 L495.50 263.8 L506.75 262.7 L518.00 207.8 L529.25 225.8 L540.50 289.1 L551.75 280.0 L563.00 210.1 L574.25 229.2 L585.50 248.2 L596.75 266.5 L608.00 211.9 L619.25 235.0 L630.50 265.0 L641.75 268.9 L653.00 227.4 L664.25 238.8 L675.50 293.6 L686.75 288.4 L698.00 225.0 L709.25 240.8 L720.50 299.0 L731.75 294.1 L743.00 220.9"/>
<path d="M79.25 216.6 L90.50 251.9 L101.75 250.9 L113.00 225.4 L124.25 245.5 L135.50 294.4 L146.75 285.1 L158.00 240.0 L169.25 253.9 L180.50 297.7 L191.75 281.8 L203.00 254.1 L214.25 248.3 L225.50 286.4 L236.75 274.9 L248.00 246.8 L259.25 248.5 L270.50 247.9 L281.75 251.3 L293.00 211.5 L304.25 225.6 L315.50 255.0 L326.75 252.3 L338.00 219.8 L349.25 226.0 L360.50 265.5 L371.75 260.6 L383.00 226.0 L394.25 243.4 L405.50 277.4 L416.75 277.3 L428.00 246.1 L439.25 250.0 L450.50 244.8 L461.75 246.2 L473.00 213.7 L484.25 227.7 L495.50 265.8 L506.75 275.9 L518.00 256.0 L529.25 256.0 L540.50 253.5 L551.75 235.7 L563.00 215.2 L574.25 240.2 L585.50 258.5 L596.75 255.5 L608.00 214.4 L619.25 241.0 L630.50 259.2 L641.75 238.1 L653.00 176.0 L664.25 198.6 L675.50 276.3 L686.75 275.2 L698.00 192.7 L709.25 210.7 L720.50 237.1 L731.75 236.3 L743.00 202.4"/>
<path d="M79.25 214.7 L90.50 249.8 L101.75 249.0 L113.00 219.9 L124.25 243.9 L135.50 292.1 L146.75 282.0 L158.00 224.7 L169.25 245.1 L180.50 295.8 L191.75 285.1 L203.00 238.7 L214.25 241.5 L225.50 279.3 L236.75 273.0 L248.00 222.1 L259.25 224.4 L270.50 246.6 L281.75 247.0 L293.00 222.5 L304.25 230.1 L315.50 255.6 L326.75 253.0 L338.00 224.6 L349.25 227.6 L360.50 262.9 L371.75 261.6 L383.00 216.0 L394.25 233.0 L405.50 279.5 L416.75 285.1 L428.00 221.0 L439.25 225.5 L450.50 235.8 L461.75 236.5 L473.00 166.4 L484.25 169.8 L495.50 279.0 L506.75 253.1 L518.00 159.0 L529.25 172.0 L540.50 274.9 L551.75 267.1 L563.00 203.7 L574.25 230.8 L585.50 274.1 L596.75 272.4 L608.00 177.5 L619.25 213.7 L630.50 248.6 L641.75 246.4 L653.00 150.0 L664.25 151.0 L675.50 192.0 L686.75 198.0 L698.00 115.0 L709.25 125.7 L720.50 241.0 L731.75 245.2 L743.00 169.0"/>
<path d="M79.25 208.0 L90.50 247.6 L101.75 248.0 L113.00 216.7 L124.25 242.5 L135.50 284.6 L146.75 280.2 L158.00 226.1 L169.25 247.9 L180.50 292.3 L191.75 282.8 L203.00 228.0 L214.25 240.6 L225.50 270.9 L236.75 262.3 L248.00 238.1 L259.25 238.0 L270.50 238.8 L281.75 239.4 L293.00 204.3 L304.25 211.4 L315.50 264.6 L326.75 256.5 L338.00 210.3 L349.25 216.4 L360.50 265.8 L371.75 262.3 L383.00 209.1 L394.25 227.7 L405.50 225.0 L416.75 229.1 L428.00 214.2 L439.25 229.2 L450.50 241.9 L461.75 237.9 L473.00 221.6 L484.25 243.3 L495.50 241.2 L506.75 229.5 L518.00 222.3 L529.25 239.5 L540.50 267.6 L551.75 255.1 L563.00 213.3 L574.25 233.9 L585.50 290.3 L596.75 277.9 L608.00 100.5 L619.25 168.0 L630.50 284.6 L641.75 269.7 L653.00 155.5 L664.25 165.0 L675.50 233.2 L686.75 228.2 L698.00 170.0 L709.25 180.0 L720.50 246.7 L731.75 234.5 L743.00 217.4"/>
<path d="M79.25 218.5 L90.50 250.1 L101.75 248.4 L113.00 221.5 L124.25 248.3 L135.50 286.4 L146.75 279.2 L158.00 236.1 L169.25 252.9 L180.50 299.8 L191.75 289.9 L203.00 254.9 L214.25 254.7 L225.50 291.0 L236.75 277.8 L248.00 252.0 L259.25 245.9 L270.50 255.0 L281.75 257.0 L293.00 221.0 L304.25 223.8 L315.50 279.3 L326.75 277.3 L338.00 221.5 L349.25 239.1 L360.50 280.6 L371.75 272.2 L383.00 234.3 L394.25 241.5 L405.50 285.7 L416.75 281.4 L428.00 229.6 L439.25 238.2 L450.50 301.7 L461.75 291.2 L473.00 253.7 L484.25 253.5 L495.50 288.8 L506.75 267.8 L518.00 195.3 L529.25 222.2 L540.50 270.3 L551.75 266.4 L563.00 218.5 L574.25 243.5 L585.50 291.9 L596.75 278.8 L608.00 212.8 L619.25 186.0 L630.50 281.7 L641.75 274.4 L653.00 231.8 L664.25 234.6 L675.50 250.1 L686.75 240.2 L698.00 184.3 L709.25 214.1 L720.50 284.9 L731.75 276.5 L743.00 210.2"/>
<path d="M79.25 219.7 L90.50 250.6 L101.75 249.8 L113.00 215.3 L124.25 244.0 L135.50 297.3 L146.75 282.4 L158.00 229.1 L169.25 248.5 L180.50 303.7 L191.75 292.2 L203.00 246.2 L214.25 243.5 L225.50 280.0 L236.75 272.5 L248.00 234.5 L259.25 238.1 L270.50 244.5 L281.75 245.0 L293.00 207.4 L304.25 216.8 L315.50 249.9 L326.75 247.2 L338.00 208.3 L349.25 221.6 L360.50 267.7 L371.75 262.8 L383.00 215.5 L394.25 232.1 L405.50 254.4 L416.75 233.9 L428.00 219.9 L439.25 230.5 L450.50 252.7 L461.75 243.5 L473.00 233.1 L484.25 247.6 L495.50 220.0 L506.75 225.2 L518.00 223.7 L529.25 237.3 L540.50 241.4 L551.75 233.7 L563.00 193.8 L574.25 206.8 L585.50 225.8 L596.75 242.1 L608.00 209.5 L619.25 240.1 L630.50 267.7 L641.75 266.4 L653.00 239.3 L664.25 250.7 L675.50 245.5 L686.75 269.9 L698.00 188.6 L709.25 203.1 L720.50 244.8 L731.75 256.6 L743.00 113.7"/>
<path d="M79.25 223.6 L90.50 251.0 L101.75 256.5 L113.00 227.8 L124.25 245.9 L135.50 292.3 L146.75 281.6 L158.00 246.9 L169.25 259.5 L180.50 307.6 L191.75 293.6 L203.00 256.7 L214.25 251.9 L225.50 309.0 L236.75 295.5 L248.00 244.3 L259.25 247.6 L270.50 251.8 L281.75 252.9 L293.00 214.5 L304.25 228.9 L315.50 271.9 L326.75 273.3 L338.00 216.6 L349.25 235.6 L360.50 299.0 L371.75 282.0 L383.00 232.9 L394.25 235.5 L405.50 288.0 L416.75 288.0 L428.00 252.3 L439.25 256.8 L450.50 274.9 L461.75 279.2 L473.00 217.9 L484.25 229.8 L495.50 280.6 L506.75 267.0 L518.00 245.1 L529.25 253.2 L540.50 278.1 L551.75 274.9 L563.00 210.5 L574.25 234.6 L585.50 268.2 L596.75 268.1 L608.00 184.8 L619.25 211.5 L630.50 262.2 L641.75 248.3 L653.00 188.2 L664.25 202.7 L675.50 301.0 L686.75 297.8 L698.00 196.5 L709.25 207.0 L720.50 269.8 L731.75 260.9 L743.00 233.0"/>
<path d="M79.25 223.1 L90.50 256.2 L101.75 253.0 L113.00 230.7 L124.25 247.7 L135.50 296.8 L146.75 287.7 L158.00 237.3 L169.25 253.0 L180.50 298.3 L191.75 286.6 L203.00 245.7 L214.25 244.7 L225.50 283.2 L236.75 270.7 L248.00 227.1 L259.25 216.4 L270.50 241.5 L281.75 243.0 L293.00 205.7 L304.25 213.6 L315.50 234.0 L326.75 229.0 L338.00 197.4 L349.25 210.5 L360.50 265.3 L371.75 261.9 L383.00 203.8 L394.25 221.5 L405.50 238.9 L416.75 236.8 L428.00 232.9 L439.25 233.4 L450.50 253.9 L461.75 260.5 L473.00 197.8 L484.25 210.0 L495.50 268.5 L506.75 261.9 L518.00 192.2 L529.25 188.7 L540.50 250.2 L551.75 269.4 L563.00 185.0 L574.25 165.0 L585.50 287.3 L596.75 285.8 L608.00 207.2 L619.25 230.9 L630.50 275.1 L641.75 276.6 L653.00 232.9 L664.25 239.7 L675.50 286.7 L686.75 264.6 L698.00 225.5 L709.25 238.1 L720.50 292.6 L731.75 287.6 L743.00 224.9"/>
<path d="M79.25 219.2 L90.50 256.9 L101.75 252.6 L113.00 232.9 L124.25 250.8 L135.50 303.5 L146.75 291.0 L158.00 237.0 L169.25 252.3 L180.50 309.5 L191.75 295.9 L203.00 249.5 L214.25 243.0 L225.50 298.5 L236.75 285.7 L248.00 243.2 L259.25 234.4 L270.50 244.1 L281.75 243.9 L293.00 206.0 L304.25 222.1 L315.50 261.2 L326.75 268.3 L338.00 215.0 L349.25 226.0 L360.50 250.9 L371.75 254.7 L383.00 208.1 L394.25 226.2 L405.50 257.1 L416.75 242.4 L428.00 207.5 L439.25 212.9 L450.50 238.9 L461.75 242.2 L473.00 212.2 L484.25 230.7 L495.50 237.5 L506.75 238.5 L518.00 181.9 L529.25 217.0 L540.50 243.2 L551.75 245.0 L563.00 226.4 L574.25 230.1 L585.50 250.0 L596.75 246.2 L608.00 220.3 L619.25 234.1 L630.50 267.2 L641.75 272.4 L653.00 204.5 L664.25 228.8 L675.50 281.9 L686.75 286.6 L698.00 226.1 L709.25 235.0 L720.50 287.4 L731.75 286.3 L743.00 215.1"/>
<path d="M79.25 220.8 L90.50 252.7 L101.75 254.7 L113.00 226.9 L124.25 251.5 L135.50 305.6 L146.75 290.2 L158.00 245.3 L169.25 255.9 L180.50 310.6 L191.75 295.0 L203.00 251.3 L214.25 252.8 L225.50 306.2 L236.75 298.0 L248.00 241.9 L259.25 237.8 L270.50 242.0 L281.75 247.5 L293.00 206.9 L304.25 218.5 L315.50 270.3 L326.75 271.6 L338.00 218.3 L349.25 226.3 L360.50 266.6 L371.75 258.9 L383.00 222.3 L394.25 231.0 L405.50 281.6 L416.75 272.1 L428.00 255.7 L439.25 265.0 L450.50 292.0 L461.75 286.3 L473.00 240.8 L484.25 240.3 L495.50 303.7 L506.75 284.3 L518.00 269.0 L529.25 251.0 L540.50 286.5 L551.75 278.9 L563.00 241.6 L574.25 257.2 L585.50 301.0 L596.75 288.0 L608.00 233.8 L619.25 251.4 L630.50 283.1 L641.75 280.0 L653.00 242.0 L664.25 249.6 L675.50 283.5 L686.75 295.8 L698.00 238.5 L709.25 254.0 L720.50 272.2 L731.75 279.9 L743.00 205.0"/>
<path d="M79.25 218.0 L90.50 246.7 L101.75 246.2 L113.00 236.6 L124.25 249.5 L135.50 288.0 L146.75 278.5 L158.00 238.4 L169.25 253.0 L180.50 295.4 L191.75 286.0 L203.00 245.2 L214.25 243.0 L225.50 272.0 L236.75 265.6 L248.00 239.9 L259.25 237.9 L270.50 234.0 L281.75 232.0 L293.00 196.0 L304.25 200.0 L315.50 245.8 L326.75 249.0 L338.00 187.0 L349.25 204.0 L360.50 264.4 L371.75 261.2 L383.00 207.1 L394.25 231.8 L405.50 269.3 L416.75 268.6 L428.00 205.7 L439.25 223.2 L450.50 282.1 L461.75 272.6 L473.00 257.4 L484.25 255.5 L495.50 287.1 L506.75 268.7 L518.00 205.7 L529.25 214.9 L540.50 258.1 L551.75 231.7 L563.00 200.8 L574.25 212.0 L585.50 244.5 L596.75 235.8 L608.00 213.2 L619.25 229.9 L630.50 273.9 L641.75 270.5 L653.00 236.6 L664.25 234.0 L675.50 268.6 L686.75 249.0 L698.00 226.7 L709.25 240.1 L720.50 268.7 L731.75 258.1 L743.00 227.6"/>
<path d="M79.25 216.9 L90.50 249.1 L101.75 247.4 L113.00 224.0 L124.25 244.9 L135.50 292.7 L146.75 281.1 L158.00 242.0 L169.25 256.7 L180.50 298.1 L191.75 288.1 L203.00 247.3 L214.25 243.2 L225.50 279.7 L236.75 272.7 L248.00 241.2 L259.25 237.6 L270.50 242.2 L281.75 244.3 L293.00 215.7 L304.25 226.7 L315.50 263.4 L326.75 252.7 L338.00 230.8 L349.25 240.4 L360.50 278.0 L371.75 271.1 L383.00 228.6 L394.25 245.4 L405.50 266.5 L416.75 253.4 L428.00 215.8 L439.25 220.3 L450.50 261.8 L461.75 256.0 L473.00 236.8 L484.25 241.3 L495.50 267.5 L506.75 263.6 L518.00 216.5 L529.25 218.9 L540.50 284.0 L551.75 277.9 L563.00 237.2 L574.25 255.0 L585.50 267.7 L596.75 253.8 L608.00 217.0 L619.25 248.0 L630.50 287.7 L641.75 285.0 L653.00 211.7 L664.25 180.0 L675.50 275.0 L686.75 271.1 L698.00 214.7 L709.25 242.4 L720.50 276.2 L731.75 291.8 L743.00 215.8"/>
<path d="M79.25 222.1 L90.50 258.2 L101.75 255.9 L113.00 234.1 L124.25 254.8 L135.50 291.0 L146.75 281.9 L158.00 237.1 L169.25 254.2 L180.50 298.0 L191.75 286.0 L203.00 250.0 L214.25 246.0 L225.50 288.5 L236.75 273.3 L248.00 228.6 L259.25 235.1 L270.50 247.3 L281.75 246.5 L293.00 204.6 L304.25 217.5 L315.50 259.3 L326.75 262.6 L338.00 214.9 L349.25 223.6 L360.50 255.1 L371.75 259.4 L383.00 200.0 L394.25 218.0 L405.50 235.5 L416.75 235.4 L428.00 194.6 L439.25 208.5 L450.50 248.9 L461.75 248.7 L473.00 209.3 L484.25 231.4 L495.50 251.5 L506.75 240.2 L518.00 249.3 L529.25 245.6 L540.50 265.8 L551.75 251.9 L563.00 209.5 L574.25 237.2 L585.50 281.6 L596.75 281.9 L608.00 182.0 L619.25 209.1 L630.50 276.3 L641.75 278.9 L653.00 218.2 L664.25 235.5 L675.50 235.7 L686.75 256.9 L698.00 203.5 L709.25 194.5 L720.50 257.2 L731.75 253.5 L743.00 208.4"/>
<path d="M79.25 217.9 L90.50 249.9 L101.75 248.9 L113.00 221.0 L124.25 243.7 L135.50 307.0 L146.75 292.0 L158.00 244.6 L169.25 259.0 L180.50 302.3 L191.75 287.4 L203.00 252.6 L214.25 248.9 L225.50 304.0 L236.75 293.5 L248.00 249.8 L259.25 246.7 L270.50 246.0 L281.75 245.3 L293.00 227.6 L304.25 234.1 L315.50 277.1 L326.75 269.9 L338.00 236.0 L349.25 241.8 L360.50 274.4 L371.75 267.4 L383.00 243.9 L394.25 255.0 L405.50 278.4 L416.75 273.4 L428.00 238.3 L439.25 245.3 L450.50 289.9 L461.75 282.7 L473.00 238.8 L484.25 246.5 L495.50 300.0 L506.75 286.4 L518.00 253.7 L529.25 244.4 L540.50 266.7 L551.75 261.7 L563.00 232.4 L574.25 252.2 L585.50 285.8 L596.75 268.7 L608.00 236.9 L619.25 244.9 L630.50 295.8 L641.75 289.0 L653.00 247.1 L664.25 257.5 L675.50 308.0 L686.75 301.0 L698.00 247.5 L709.25 249.9 L720.50 288.6 L731.75 283.6 L743.00 211.1"/>
<path d="M79.25 217.4 L90.50 250.4 L101.75 248.5 L113.00 221.7 L124.25 244.3 L135.50 289.4 L146.75 280.7 L158.00 239.1 L169.25 255.3 L180.50 293.0 L191.75 285.3 L203.00 246.0 L214.25 243.0 L225.50 282.6 L236.75 272.8 L248.00 242.7 L259.25 242.3 L270.50 252.7 L281.75 255.7 L293.00 212.4 L304.25 222.9 L315.50 273.6 L326.75 265.3 L338.00 216.2 L349.25 229.3 L360.50 272.4 L371.75 273.3 L383.00 216.7 L394.25 230.1 L405.50 260.8 L416.75 270.9 L428.00 223.6 L439.25 229.0 L450.50 246.2 L461.75 253.2 L473.00 220.3 L484.25 236.1 L495.50 292.3 L506.75 277.0 L518.00 229.9 L529.25 230.6 L540.50 251.8 L551.75 248.6 L563.00 216.2 L574.25 232.0 L585.50 272.0 L596.75 269.4 L608.00 212.4 L619.25 228.9 L630.50 242.8 L641.75 265.9 L653.00 180.3 L664.25 189.7 L675.50 272.6 L686.75 244.7 L698.00 230.5 L709.25 236.1 L720.50 278.2 L731.75 274.4 L743.00 216.3"/>
<path d="M79.25 216.3 L90.50 254.0 L101.75 250.0 L113.00 211.9 L124.25 239.8 L135.50 293.5 L146.75 286.0 L158.00 228.2 L169.25 246.0 L180.50 301.8 L191.75 286.3 L203.00 237.5 L214.25 243.0 L225.50 302.1 L236.75 291.8 L248.00 240.0 L259.25 236.7 L270.50 248.6 L281.75 249.3 L293.00 199.7 L304.25 208.5 L315.50 254.4 L326.75 250.4 L338.00 195.3 L349.25 208.8 L360.50 261.7 L371.75 262.0 L383.00 214.9 L394.25 224.5 L405.50 265.1 L416.75 261.7 L428.00 183.2 L439.25 195.1 L450.50 257.1 L461.75 254.3 L473.00 217.0 L484.25 232.0 L495.50 229.9 L506.75 235.0 L518.00 203.4 L529.25 207.7 L540.50 233.8 L551.75 243.2 L563.00 197.5 L574.25 214.4 L585.50 268.7 L596.75 250.1 L608.00 221.4 L619.25 239.3 L630.50 255.8 L641.75 229.3 L653.00 221.6 L664.25 242.3 L675.50 262.4 L686.75 230.7 L698.00 162.5 L709.25 189.9 L720.50 230.5 L731.75 240.0 L743.00 135.0"/>
<path d="M79.25 218.3 L90.50 260.0 L101.75 259.0 L113.00 226.1 L124.25 248.8 L135.50 290.5 L146.75 278.0 L158.00 237.4 L169.25 253.1 L180.50 298.2 L191.75 286.1 L203.00 246.0 L214.25 243.0 L225.50 293.7 L236.75 284.4 L248.00 239.8 L259.25 238.8 L270.50 240.3 L281.75 237.3 L293.00 204.0 L304.25 214.7 L315.50 251.5 L326.75 253.3 L338.00 215.5 L349.25 226.5 L360.50 276.7 L371.75 280.0 L383.00 216.2 L394.25 230.6 L405.50 255.8 L416.75 243.7 L428.00 210.7 L439.25 216.9 L450.50 278.4 L461.75 269.6 L473.00 214.9 L484.25 218.5 L495.50 248.2 L506.75 246.9 L518.00 218.2 L529.25 232.3 L540.50 275.9 L551.75 273.9 L563.00 210.8 L574.25 244.7 L585.50 297.7 L596.75 284.0 L608.00 219.1 L619.25 237.7 L630.50 302.0 L641.75 294.0 L653.00 215.4 L664.25 244.3 L675.50 304.1 L686.75 305.0 L698.00 241.9 L709.25 251.9 L720.50 296.2 L731.75 297.0 L743.00 222.4"/>
<path d="M79.25 218.2 L90.50 250.0 L101.75 249.4 L113.00 209.6 L124.25 237.1 L135.50 282.5 L146.75 277.1 L158.00 227.2 L169.25 247.3 L180.50 300.7 L191.75 288.5 L203.00 244.8 L214.25 242.4 L225.50 280.5 L236.75 272.9 L248.00 223.8 L259.25 225.9 L270.50 242.3 L281.75 253.8 L293.00 202.2 L304.25 218.1 L315.50 258.5 L326.75 261.4 L338.00 213.3 L349.25 225.9 L360.50 256.2 L371.75 257.0 L383.00 205.0 L394.25 223.5 L405.50 264.7 L416.75 266.4 L428.00 197.1 L439.25 224.4 L450.50 247.6 L461.75 247.4 L473.00 215.3 L484.25 225.1 L495.50 231.8 L506.75 231.3 L518.00 243.0 L529.25 231.4 L540.50 272.9 L551.75 271.2 L563.00 205.0 L574.25 216.6 L585.50 253.6 L596.75 266.1 L608.00 200.9 L619.25 235.6 L630.50 263.7 L641.75 263.6 L653.00 240.6 L664.25 246.3 L675.50 225.4 L686.75 220.6 L698.00 228.1 L709.25 244.2 L720.50 280.3 L731.75 277.6 L743.00 214.7"/>
</g>
<path d="M79.25 217.5 L90.50 250.6 L101.75 249.4 L113.00 219.6 L124.25 243.3 L135.50 294.2 L146.75 282.5 L158.00 235.9 L169.25 252.5 L180.50 299.2 L191.75 286.5 L203.00 244.2 L214.25 242.0 L225.50 282.9 L236.75 274.2 L248.00 238.5 L259.25 237.0 L270.50 242.9 L281.75 244.7 L293.00 204.5 L304.25 216.0 L315.50 257.1 L326.75 254.5 L338.00 212.9 L349.25 224.8 L360.50 266.6 L371.75 262.9 L383.00 213.5 L394.25 230.1 L405.50 267.7 L416.75 260.8 L428.00 214.0 L439.25 227.0 L450.50 262.0 L461.75 259.0 L473.00 213.0 L484.25 231.0 L495.50 268.0 L506.75 265.0 L518.00 208.0 L529.25 226.0 L540.50 276.4 L551.75 270.7 L563.00 204.0 L574.25 230.0 L585.50 279.6 L596.75 273.7 L608.00 210.0 L619.25 232.0 L630.50 279.6 L641.75 276.0 L653.00 218.0 L664.25 233.0 L675.50 282.6 L686.75 279.0 L698.00 222.0 L709.25 234.0 L720.50 286.0 L731.75 277.0 L743.00 198.5" stroke="#008000" stroke-width="2"/>
<path d="M79.25 214.3 L90.50 249.0 L101.75 248.0 L113.00 218.5 L124.25 243.0 L135.50 293.0 L146.75 282.0 L158.00 235.0 L169.25 252.0 L180.50 295.0 L191.75 285.0 L203.00 244.0 L214.25 241.6 L225.50 283.0 L236.75 280.0 L248.00 240.0 L259.25 238.0 L270.50 242.0 L281.75 243.5 L293.00 205.0 L304.25 214.0 L315.50 263.0 L326.75 257.0 L338.00 207.0 L349.25 221.0 L360.50 263.0 L371.75 261.0 L383.00 224.0 L394.25 232.0 L405.50 246.0 L416.75 245.0 L428.00 201.0 L439.25 207.0 L450.50 256.0 L461.75 254.4 L473.00 151.2 L484.25 180.0 L495.50 236.4 L506.75 234.4 L518.00 223.0 L529.25 229.0 L540.50 267.0 L551.75 264.0 L563.00 215.0 L574.25 231.0 L585.50 287.0 L596.75 270.0 L608.00 207.0 L619.25 228.0 L630.50 265.0 L641.75 261.0 L653.00 233.6 L664.25 240.0 L675.50 290.0 L686.75 277.0 L698.00 230.0 L709.25 238.0 L720.50 305.0 L731.75 301.0 L743.00 215.5" stroke="#000000" stroke-width="2" stroke-dasharray="6 2" stroke-linecap="butt" stroke-linejoin="miter"/>
<path d="M79.25 217.0 L90.50 249.4 L101.75 248.4 L113.00 217.2 L124.25 243.0 L135.50 293.0 L146.75 282.0 L158.00 237.0 L169.25 253.0 L180.50 298.0 L191.75 286.0 L203.00 247.0 L214.25 243.0 L225.50 283.0 L236.75 281.0 L248.00 238.5 L259.25 237.3 L270.50 242.0 L281.75 247.0 L293.00 189.0 L304.25 213.0 L315.50 261.0 L326.75 257.0 L338.00 213.0 L349.25 227.0 L360.50 262.0 L371.75 260.0 L383.00 209.0 L394.25 231.0 L405.50 248.0 L416.75 246.6 L428.00 223.0 L439.25 234.0 L450.50 242.4 L461.75 243.0 L473.00 208.0 L484.25 196.0 L495.50 251.0 L506.75 238.0 L518.00 186.4" stroke="#ff0000" stroke-width="2"/>
<path d="M79.25 218.0 L90.50 250.0 L101.75 249.0 L113.00 221.0 L124.25 244.0 L135.50 293.0 L146.75 282.0 L158.00 237.0 L169.25 253.0 L180.50 298.0 L191.75 286.0 L203.00 246.0 L214.25 243.0 L225.50 281.0 L236.75 273.0 L248.00 240.0 L259.25 238.0 L270.50 242.0 L281.75 244.0 L293.00 206.0 L304.25 217.0 L315.50 255.0 L326.75 253.0 L338.00 215.0 L349.25 226.0 L360.50 265.0 L371.75 262.0 L383.00 216.0 L394.25 232.0 L405.50 265.0 L416.75 259.0 L428.00 217.0 L439.25 229.0 L450.50 259.0 L461.75 257.0 L473.00 216.0 L484.25 233.0 L495.50 265.0 L506.75 263.0 L518.00 218.0 L529.25 228.0 L540.50 267.0 L551.75 263.0 L563.00 211.0 L574.25 232.0 L585.50 268.0 L596.75 266.0 L608.00 213.0 L619.25 234.0 L630.50 267.5 L641.75 266.3 L653.00 221.0 L664.25 235.0 L675.50 269.0 L686.75 265.0 L698.00 225.0 L709.25 236.0 L720.50 271.0 L731.75 268.0 L743.00 215.0" stroke="#b22222" stroke-width="2" stroke-dasharray="6 2" stroke-linecap="butt" stroke-linejoin="miter"/>
</g>
<g font-size="11" fill="#666666">
<text x="35.3" y="327.3" text-anchor="end">10</text>
<text x="765" y="327.3" text-anchor="start">10</text>
<text x="35.3" y="274.9" text-anchor="end">15</text>
<text x="765" y="274.9" text-anchor="start">15</text>
<text x="35.3" y="222.5" text-anchor="end">20</text>
<text x="765" y="222.5" text-anchor="start">20</text>
<text x="35.3" y="170.1" text-anchor="end">25</text>
<text x="765" y="170.1" text-anchor="start">25</text>
<text x="35.3" y="117.7" text-anchor="end">30</text>
<text x="765" y="117.7" text-anchor="start">30</text>
<text x="35.3" y="66.2" text-anchor="end">35</text>
<text x="765" y="66.2" text-anchor="start">35</text>
<text x="90.3" y="342"><tspan x="90.3">ma</tspan><tspan x="90.3" dy="14">24-07</tspan></text>
<text x="135.3" y="342"><tspan x="135.3">di</tspan><tspan x="135.3" dy="14">25-07</tspan></text>
<text x="180.3" y="342"><tspan x="180.3">wo</tspan><tspan x="180.3" dy="14">26-07</tspan></text>
<text x="225.3" y="342"><tspan x="225.3">do</tspan><tspan x="225.3" dy="14">27-07</tspan></text>
<text x="270.3" y="342"><tspan x="270.3">vr</tspan><tspan x="270.3" dy="14">28-07</tspan></text>
<text x="315.3" y="342"><tspan x="315.3">za</tspan><tspan x="315.3" dy="14">29-07</tspan></text>
<text x="360.3" y="342"><tspan x="360.3">zo</tspan><tspan x="360.3" dy="14">30-07</tspan></text>
<text x="405.3" y="342"><tspan x="405.3">ma</tspan><tspan x="405.3" dy="14">31-07</tspan></text>
<text x="450.3" y="342"><tspan x="450.3">di</tspan><tspan x="450.3" dy="14">01-08</tspan></text>
<text x="495.3" y="342"><tspan x="495.3">wo</tspan><tspan x="495.3" dy="14">02-08</tspan></text>
<text x="540.3" y="342"><tspan x="540.3">do</tspan><tspan x="540.3" dy="14">03-08</tspan></text>
<text x="585.3" y="342"><tspan x="585.3">vr</tspan><tspan x="585.3" dy="14">04-08</tspan></text>
<text x="630.3" y="342"><tspan x="630.3">za</tspan><tspan x="630.3" dy="14">05-08</tspan></text>
<text x="675.3" y="342"><tspan x="675.3">zo</tspan><tspan x="675.3" dy="14">06-08</tspan></text>
<text x="720.3" y="342"><tspan x="720.3">ma</tspan><tspan x="720.3" dy="14">07-08</tspan></text>
</g>
<text x="398.2" y="24" text-anchor="middle" font-size="18" fill="#333333">Temperatuur (˚C)</text>
<text x="399.2" y="46" text-anchor="middle" font-size="12" fill="#666666">De Bilt, zondag 23 juli 2023 (Versie zo 12 uur)</text>
<g font-size="12" fill="#333333">
<path d="M115 379H131" stroke="#008000" stroke-width="1" stroke-opacity="0.55" fill="none"/>
<text x="136" y="383">Verstoorde runs</text>
<path d="M242 379H258" stroke="#000000" stroke-width="2" stroke-opacity="1" stroke-dasharray="6 2" fill="none"/>
<text x="263" y="383">Controle</text>
<path d="M324 379H340" stroke="#ff0000" stroke-width="2" stroke-opacity="1" fill="none"/>
<text x="345" y="383">Hoge resolutie</text>
<path d="M442 379H458" stroke="#b22222" stroke-width="2" stroke-opacity="1" stroke-dasharray="6 2" fill="none"/>
<text x="463" y="383">Middelste (P50)</text>
<path d="M567 379H583" stroke="#008000" stroke-width="2" stroke-opacity="1" fill="none"/>
<text x="588" y="383">Verstoorde runs</text>
</g>
<text x="790" y="395" text-anchor="end" font-size="9" fill="#999999">Bron: ECMWF/KNMI</text>
</svg>
</body></html>
